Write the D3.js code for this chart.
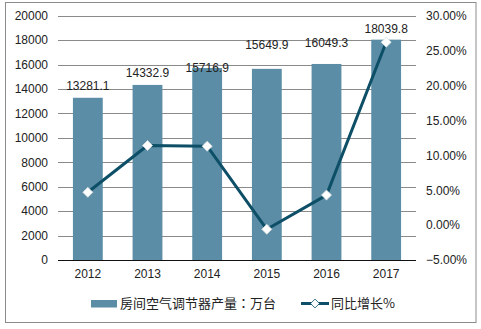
<!DOCTYPE html>
<html>
<head>
<meta charset="utf-8">
<script src="https://cdn.jsdelivr.net/npm/d3@7/dist/d3.min.js"></script>
<style>
  html, body { margin: 0; padding: 0; background: #fff; }
  svg { display: block; }
  text { font-family: "Liberation Sans", Arial, "Noto Sans CJK SC", sans-serif; fill: #222; }
  .legend text { font-family: "Noto Sans CJK TC", "Noto Sans CJK SC", "Liberation Sans", sans-serif; }
</style>
</head>
<body>
<svg id="chart" width="481" height="329"></svg>
<script>
// Yearly output of room air conditioners (10k units) and year-on-year growth
const years = ["2012", "2013", "2014", "2015", "2016", "2017"];
const output = [13281.1, 14332.9, 15716.9, 15649.9, 16049.3, 18039.8];
const growth = [4.7, 11.4, 11.3, -0.6, 4.3, 26.2];
const leftTicks = [0, 2000, 4000, 6000, 8000, 10000, 12000, 14000, 16000, 18000, 20000];
const rightTicks = [-5, 0, 5, 10, 15, 20, 25, 30];
const barName = "房间空气调节器产量：万台";
const lineName = "同比增长%";

// vertical nudges of the value labels relative to each bar top (px)
const labelNudge = [-12, -12, 0, -24, -21, -11];

const barColor = "#5b8ea6";
const lineColor = "#0d4f67";

const svg = d3.select("#chart");
const plot = { left: 58, right: 416, top: 15.7, bottom: 260 };

// outer frame
svg.append("rect")
  .attr("x", 5.5).attr("y", 2.5)
  .attr("width", 470.5).attr("height", 320)
  .attr("fill", "#fff").attr("stroke", "#8c8c8c").attr("stroke-width", 1);

const x = d3.scaleBand().domain(years)
  .range([plot.left, plot.right])
  .paddingInner(0.5).paddingOuter(0.25);
const yL = d3.scaleLinear().domain([0, 20000]).range([plot.bottom, plot.top]);
const yR = d3.scaleLinear().domain([-5, 30]).range([plot.bottom, plot.top]);

// gridlines
svg.append("g").selectAll("line").data(leftTicks.filter(d => d > 0)).join("line")
  .attr("x1", plot.left).attr("x2", plot.right)
  .attr("y1", d => Math.round(yL(d)) + 0.5).attr("y2", d => Math.round(yL(d)) + 0.5)
  .attr("stroke", "#8a8a8a").attr("stroke-width", 1);

// left axis
const axL = svg.append("g").attr("transform", `translate(${plot.left},0)`)
  .call(d3.axisLeft(yL).tickValues(leftTicks).tickSize(0).tickPadding(10).tickFormat(d3.format("d")));
axL.select(".domain").remove();
axL.selectAll("text").style("font-size", "12px").attr("fill", "#222")
  .style("font-family", '"Liberation Sans", Arial, sans-serif');

// right axis
const axR = svg.append("g").attr("transform", `translate(${plot.right},0)`)
  .call(d3.axisRight(yR).tickValues(rightTicks).tickSize(0).tickPadding(10).tickFormat(d => d3.format(".2f")(d) + "%"));
axR.select(".domain").remove();
axR.selectAll("text").style("font-size", "12px").attr("fill", "#222")
  .style("font-family", '"Liberation Sans", Arial, sans-serif');

// bars
svg.append("g").selectAll("rect").data(years).join("rect")
  .attr("x", d => x(d))
  .attr("width", x.bandwidth())
  .attr("y", (d, i) => yL(output[i]))
  .attr("height", (d, i) => yL(0) - yL(output[i]))
  .attr("fill", barColor);

// baseline
svg.append("line")
  .attr("x1", plot.left).attr("x2", plot.right)
  .attr("y1", Math.round(yL(0)) + 0.5).attr("y2", Math.round(yL(0)) + 0.5)
  .attr("stroke", "#111").attr("stroke-width", 1);

// x axis labels
const axB = svg.append("g").attr("transform", `translate(0,${plot.bottom})`)
  .call(d3.axisBottom(x).tickSize(0).tickPadding(9));
axB.select(".domain").remove();
axB.selectAll("text").style("font-size", "12px").attr("fill", "#222")
  .style("font-family", '"Liberation Sans", Arial, sans-serif');

// growth line
const cx = d => x(d) + x.bandwidth() / 2;
const line = d3.line().x((d, i) => cx(years[i])).y(d => yR(d));
svg.append("path").datum(growth)
  .attr("d", line)
  .attr("fill", "none").attr("stroke", lineColor).attr("stroke-width", 3)
  .attr("stroke-linejoin", "round");

const diamond = d3.symbol().type(d3.symbolDiamond2).size(64);
svg.append("g").selectAll("path").data(growth).join("path")
  .attr("d", diamond)
  .attr("transform", (d, i) => `translate(${cx(years[i])},${yR(d)})`)
  .attr("fill", "#fff").attr("stroke", "#d8dde0").attr("stroke-width", 0.8);

// value labels
svg.append("g").selectAll("text").data(output).join("text")
  .attr("x", (d, i) => cx(years[i]))
  .attr("y", (d, i) => yL(d) + labelNudge[i] + 4)
  .attr("text-anchor", "middle")
  .style("font-size", "12px")
  .text(d => d3.format(".1f")(d));

// legend
const lg = svg.append("g").attr("class", "legend");
lg.append("rect").attr("x", 91).attr("y", 300).attr("width", 26).attr("height", 7.5).attr("fill", barColor);
lg.append("text").attr("x", 120).attr("y", 308).style("font-size", "13px").text(barName);
lg.append("line").attr("x1", 301).attr("x2", 329).attr("y1", 303.5).attr("y2", 303.5)
  .attr("stroke", lineColor).attr("stroke-width", 3);
lg.append("path").attr("d", d3.symbol().type(d3.symbolDiamond2).size(50)).attr("transform", "translate(315,303.5)")
  .attr("fill", "#fff").attr("stroke", lineColor).attr("stroke-width", 0.8);
lg.append("text").attr("x", 331).attr("y", 308).style("font-size", "13px").text(lineName);
</script>
</body>
</html>
